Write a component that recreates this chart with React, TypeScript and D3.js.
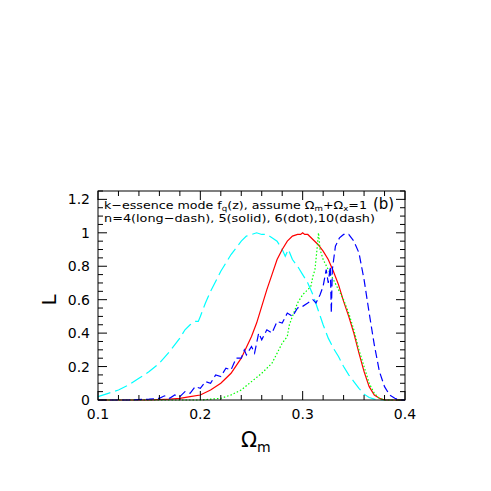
import React from "react";
import * as d3 from "d3";

const cyanOmega = [0.1,0.11,0.12,0.13,0.14,0.15,0.16,0.17,0.18,0.185,0.19,0.195,0.198,0.2,0.205,0.21,0.22,0.23,0.24,0.245,0.25,0.255,0.26,0.265,0.27,0.275,0.28,0.283,0.286,0.29,0.295,0.3,0.305,0.31,0.315,0.32,0.325,0.33,0.335,0.34,0.345,0.35,0.355,0.36,0.365,0.37,0.38,0.4];
const cyanL = [0.02,0.04,0.06,0.09,0.13,0.17,0.22,0.29,0.37,0.42,0.45,0.47,0.47,0.5,0.58,0.65,0.77,0.87,0.95,0.98,0.99,1.0,0.99,0.99,0.97,0.95,0.9,0.86,0.9,0.84,0.8,0.75,0.7,0.63,0.54,0.45,0.37,0.31,0.26,0.2,0.15,0.11,0.07,0.035,0.015,0.005,0,0];

const redOmega = [0.1,0.15,0.17,0.18,0.19,0.2,0.21,0.22,0.23,0.24,0.25,0.255,0.26,0.265,0.27,0.275,0.28,0.285,0.29,0.295,0.298,0.3,0.302,0.305,0.31,0.315,0.32,0.325,0.33,0.335,0.34,0.345,0.35,0.355,0.36,0.365,0.37,0.375,0.38,0.4];
const redL = [0,0,0.005,0.01,0.02,0.03,0.06,0.1,0.16,0.25,0.38,0.46,0.56,0.66,0.75,0.84,0.9,0.95,0.98,0.99,0.99,1.0,0.99,0.99,0.96,0.93,0.89,0.84,0.77,0.69,0.59,0.5,0.4,0.28,0.17,0.08,0.03,0.01,0,0];

const greenOmega = [0.1,0.2,0.22,0.23,0.24,0.25,0.26,0.27,0.275,0.28,0.285,0.287,0.29,0.295,0.3,0.305,0.308,0.31,0.312,0.314,0.3155,0.317,0.32,0.325,0.33,0.335,0.34,0.345,0.35,0.355,0.36,0.365,0.37,0.375,0.38,0.4];
const greenL = [0,0,0.01,0.03,0.06,0.11,0.16,0.22,0.28,0.34,0.38,0.45,0.5,0.58,0.63,0.66,0.68,0.74,0.78,0.9,1.0,0.9,0.84,0.78,0.72,0.66,0.6,0.52,0.42,0.3,0.2,0.1,0.04,0.01,0,0];

const blueOmega = [0.1,0.13,0.15,0.16,0.165,0.17,0.175,0.18,0.185,0.19,0.195,0.2,0.205,0.21,0.215,0.22,0.225,0.23,0.235,0.24,0.243,0.245,0.25,0.253,0.257,0.26,0.265,0.27,0.275,0.28,0.285,0.29,0.295,0.3,0.305,0.31,0.313,0.317,0.32,0.323,0.325,0.327,0.328,0.329,0.332,0.336,0.34,0.345,0.35,0.355,0.36,0.365,0.37,0.375,0.38,0.385,0.39,0.395,0.4];
const blueL = [0,0,0.005,0.01,0.025,0.01,0.03,0.02,0.05,0.04,0.08,0.07,0.11,0.1,0.15,0.14,0.19,0.18,0.25,0.25,0.3,0.27,0.32,0.28,0.4,0.36,0.42,0.4,0.47,0.46,0.52,0.5,0.55,0.56,0.58,0.6,0.58,0.63,0.68,0.78,0.7,0.8,0.52,0.78,0.92,0.97,0.99,0.99,0.95,0.88,0.72,0.52,0.33,0.17,0.08,0.03,0.01,0,0];

const xTicks = [0.1, 0.2, 0.3, 0.4];
const xTickLabels = ["0.1", "0.2", "0.3", "0.4"];
const yTicks = [0, 0.2, 0.4, 0.6, 0.8, 1, 1.2];
const yTickLabels = ["0", "0.2", "0.4", "0.6", "0.8", "1", "1.2"];

const series = [
  { omega: cyanOmega, L: cyanL, color: "#00ffff", dash: "13,5" },
  { omega: redOmega, L: redL, color: "#ff0000", dash: "" },
  { omega: greenOmega, L: greenL, color: "#00ff00", dash: "1.5,2" },
  { omega: blueOmega, L: blueL, color: "#0000ff", dash: "8,4" },
];

export default function App() {
  const left = 98, right = 405, top = 191, bottom = 400;
  const x = d3.scaleLinear().domain([0.1, 0.4]).range([left, right]);
  const y = d3.scaleLinear().domain([0, 1.25]).range([bottom, top]);
  const line = d3.line<[number, number]>().x(d => x(d[0])).y(d => y(d[1]));

  const xMinor = d3.range(0.1, 0.4001, 0.02);
  const yMinor = d3.range(0, 1.2501, 0.05);
  const font = "DejaVu Sans, sans-serif";

  return (
    <svg width={491} height={491} style={{ position: "absolute", left: 0, top: 0 }}>
      <rect width={491} height={491} fill="#fff" />
      {series.map((s, i) => (
        <path key={i} d={line(s.omega.map((o, j) => [o, s.L[j]] as [number, number])) || ""}
          fill="none" stroke={s.color} strokeWidth={1.2} strokeDasharray={s.dash || undefined} />
      ))}
      <rect x={left} y={top} width={right - left} height={bottom - top} fill="none" stroke="#000" strokeWidth={1} />
      {xMinor.map((v, i) => {
        const major = Math.abs((v * 10) - Math.round(v * 10)) < 1e-6;
        const len = major ? 9 : 5;
        return (
          <g key={"xm" + i}>
            <line x1={x(v)} x2={x(v)} y1={bottom} y2={bottom - len} stroke="#000" />
            <line x1={x(v)} x2={x(v)} y1={top} y2={top + len} stroke="#000" />
          </g>
        );
      })}
      {yMinor.map((v, i) => {
        const major = Math.abs((v * 5) - Math.round(v * 5)) < 1e-6;
        const len = major ? 9 : 5;
        return (
          <g key={"ym" + i}>
            <line x1={left} x2={left + len} y1={y(v)} y2={y(v)} stroke="#000" />
            <line x1={right} x2={right - len} y1={y(v)} y2={y(v)} stroke="#000" />
          </g>
        );
      })}
      {xTicks.map((v, i) => (
        <text key={"xl" + i} x={x(v)} y={bottom + 19} textAnchor="middle" fontFamily={font} fontSize={14}>{xTickLabels[i]}</text>
      ))}
      {yTicks.map((v, i) => (
        <text key={"yl" + i} x={left - 8} y={y(v) + 5} textAnchor="end" fontFamily={font} fontSize={14}>{yTickLabels[i]}</text>
      ))}
      <text x={241} y={447} fontFamily={font} fontSize={21}>Ω<tspan fontSize={14} dy={5}>m</tspan></text>
      <text x={0} y={0} transform="translate(56,300) rotate(-90)" textAnchor="middle" fontFamily={font} fontSize={20}>L</text>
      <text x={104} y={208.5} fontFamily={font} fontSize={11} textLength={263} lengthAdjust="spacingAndGlyphs">
        k−essence mode f<tspan fontSize={7.5} dy={2}>q</tspan><tspan dy={-2}>(z), assume Ω</tspan><tspan fontSize={7.5} dy={2}>m</tspan><tspan dy={-2}>+Ω</tspan><tspan fontSize={7.5} dy={2}>x</tspan><tspan dy={-2}>=1</tspan>
      </text>
      <text x={373} y={209} fontFamily={font} fontSize={15}>(b)</text>
      <text x={104} y={221.5} fontFamily={font} fontSize={11} textLength={271} lengthAdjust="spacingAndGlyphs">n=4(long−dash), 5(solid), 6(dot),10(dash)</text>
    </svg>
  );
}
